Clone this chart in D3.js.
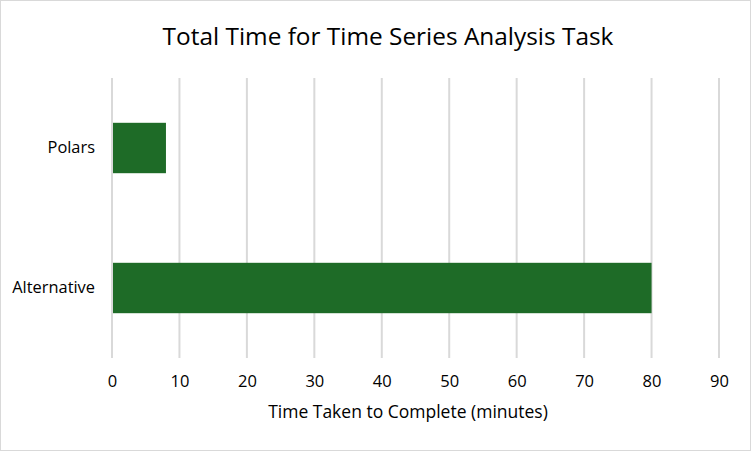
<!DOCTYPE html>
<html>
<head>
<meta charset="utf-8">
<script src="https://cdn.jsdelivr.net/npm/d3@7"></script>
<style>
  body { margin: 0; background: #fff; }
  text { font-family: "Open Sans", "Noto Sans", sans-serif; fill: #000; }
</style>
</head>
<body>
<div id="chart"></div>
<script>
var categories = ["Polars", "Alternative"];
var minutes = [8, 80];
var xTicks = [0, 10, 20, 30, 40, 50, 60, 70, 80, 90];

var width = 752, height = 452;
var margin = { top: 78, right: 33, bottom: 94, left: 112 };

var svg = d3.select("#chart")
            .append("svg")
            .attr("width", width)
            .attr("height", height);

// chart border
svg.append("rect")
   .attr("x", 0.5).attr("y", 0.5)
   .attr("width", width - 2).attr("height", height - 2)
   .attr("fill", "#fff")
   .attr("stroke", "#d9d9d9");

var x = d3.scaleLinear()
          .domain([0, 90])
          .range([margin.left, width - margin.right]);

var y = d3.scaleBand()
          .domain(categories)
          .range([margin.top, height - margin.bottom])
          .paddingInner(0.64)
          .paddingOuter(0.32);

// vertical gridlines
svg.append("g")
   .selectAll("line")
   .data(xTicks)
   .enter()
   .append("line")
   .attr("x1", function(d) { return x(d); })
   .attr("x2", function(d) { return x(d); })
   .attr("y1", margin.top)
   .attr("y2", height - margin.bottom)
   .attr("stroke", "#d9d9d9")
   .attr("stroke-width", 2);

// bars
svg.append("g")
   .selectAll("rect")
   .data(categories)
   .enter()
   .append("rect")
   .attr("x", x(0) + 1)
   .attr("y", function(d) { return y(d); })
   .attr("width", function(d, i) { return x(minutes[i]) - x(0) - 1; })
   .attr("height", y.bandwidth())
   .attr("fill", "#1e6b27");

// x axis labels
var xAxis = d3.axisBottom(x).tickValues(xTicks).tickSize(0).tickPadding(17);
var gx = svg.append("g")
   .attr("transform", "translate(0," + (height - margin.bottom) + ")")
   .call(xAxis);
gx.select(".domain").remove();
gx.selectAll("text").style("font-size", "16.5px").attr("fill", "#000");

// y axis labels
var yAxis = d3.axisLeft(y).tickSize(0).tickPadding(17);
var gy = svg.append("g")
   .attr("transform", "translate(" + margin.left + ",0)")
   .call(yAxis);
gy.select(".domain").remove();
gy.selectAll("text").style("font-size", "16.4px").attr("fill", "#000");

// title
svg.append("text")
   .attr("x", 388)
   .attr("y", 45)
   .attr("text-anchor", "middle")
   .style("font-size", "24.4px")
   .text("Total Time for Time Series Analysis Task");

// axis title
svg.append("text")
   .attr("x", 408)
   .attr("y", 418)
   .attr("text-anchor", "middle")
   .style("font-size", "17.5px")
   .text("Time Taken to Complete (minutes)");
</script>
</body>
</html>
